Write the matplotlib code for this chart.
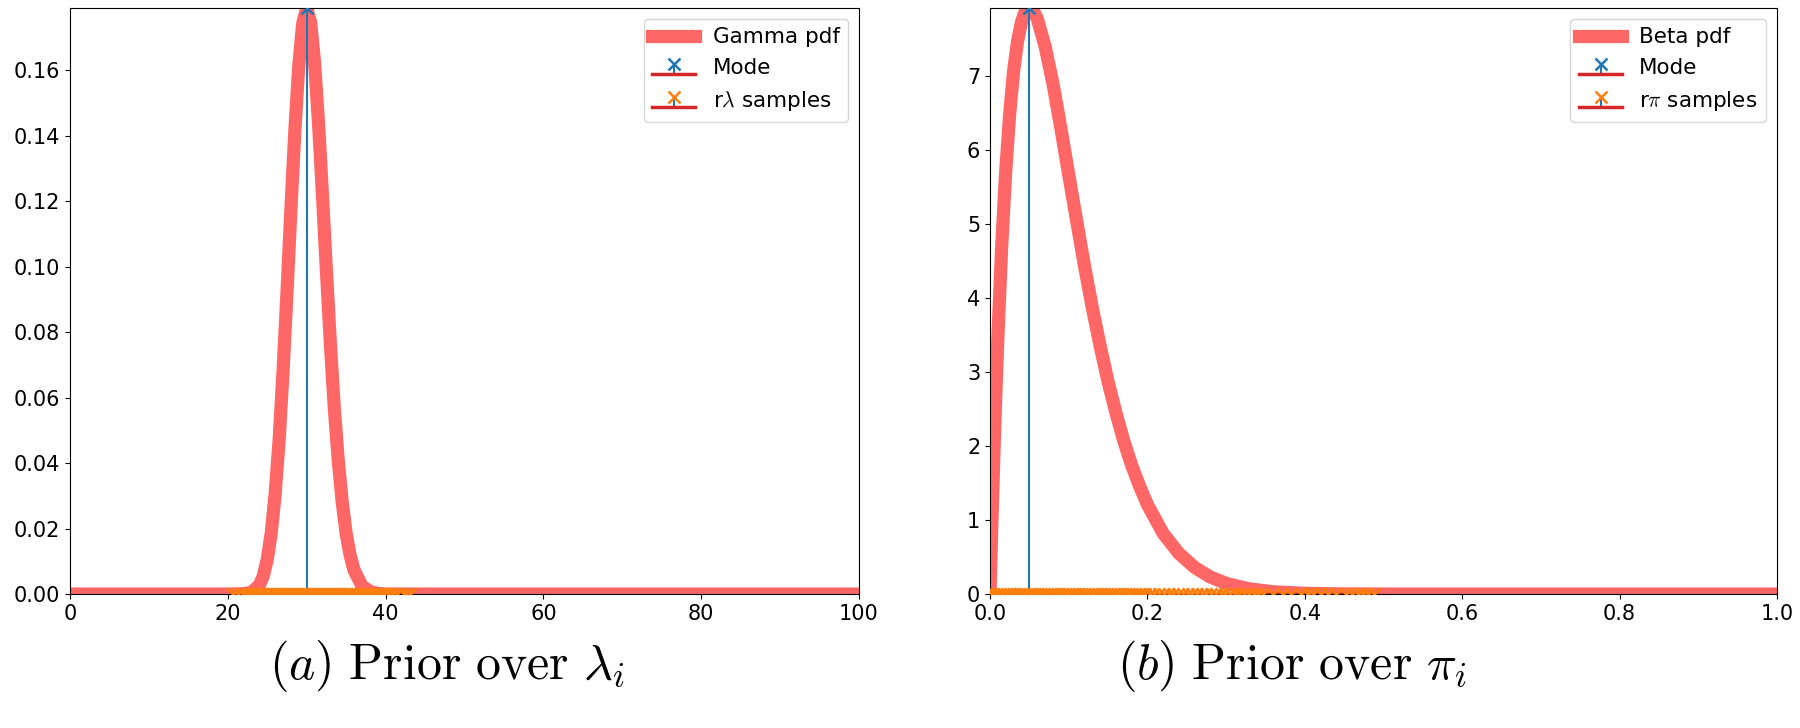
import numpy as np
import matplotlib
matplotlib.use('Agg')
import matplotlib.pyplot as plt

plt.rcParams['mathtext.fontset'] = 'cm'

# gamma prior over lambda
gamma_x = [0, 20, 22, 23, 24, 24.5, 25, 25.5, 26, 26.5, 27, 27.5, 28, 28.5,
           29, 29.5, 30, 30.5, 31, 31.5, 32, 32.5, 33, 33.5, 34, 34.5, 35,
           35.5, 36, 37, 38, 39, 40, 100]
gamma_pdf = [0.0, 0.0, 0.0001, 0.0005, 0.0027, 0.0055, 0.0106, 0.0185,
             0.0305, 0.0469, 0.0679, 0.0921, 0.1176, 0.1416, 0.1615, 0.1744,
             0.1790, 0.1746, 0.1623, 0.1438, 0.1217, 0.0986, 0.0765, 0.0567,
             0.0408, 0.0281, 0.0185, 0.0119, 0.0073, 0.0025, 0.0008, 0.0002,
             0.0, 0.0]
gamma_mode = 30
gamma_samples = [20.6, 21.3, 21.9, 22.4, 22.8, 23.1, 23.4, 23.7, 23.9, 24.1,
                 24.3, 24.5, 24.7, 24.9, 25.1, 25.3, 25.5, 25.7, 25.9, 26.1,
                 26.3, 26.5, 26.7, 26.9, 27.1, 27.3, 27.5, 27.7, 27.9, 28.1,
                 28.3, 28.5, 28.7, 28.9, 29.1, 29.3, 29.5, 29.7, 29.9, 30.1,
                 30.3, 30.5, 30.7, 30.9, 31.1, 31.3, 31.5, 31.7, 31.9, 32.1,
                 32.3, 32.5, 32.7, 32.9, 33.1, 33.3, 33.5, 33.7, 33.9, 34.1,
                 34.3, 34.5, 34.7, 34.9, 35.1, 35.3, 35.5, 35.8, 36.1, 36.4,
                 36.7, 37.0, 37.3, 37.6, 37.9, 38.2, 38.5, 38.8, 39.1, 39.4,
                 39.6, 39.9, 40.4, 41.0, 41.5, 42.3, 42.6, 43.1]

# beta prior over pi
beta_x = [0, 0.0025, 0.005, 0.0075, 0.01, 0.015, 0.02, 0.025, 0.03, 0.035,
          0.04, 0.045, 0.05, 0.055, 0.06, 0.07, 0.08, 0.09, 0.10, 0.11, 0.12,
          0.13, 0.14, 0.15, 0.16, 0.17, 0.18, 0.19, 0.20, 0.22, 0.24, 0.26,
          0.28, 0.30, 0.33, 0.36, 0.40, 0.45, 0.50, 1.0]
beta_pdf = [0.0, 1.00, 1.91, 2.73, 3.47, 4.73, 5.72, 6.49, 7.07, 7.47, 7.73,
            7.88, 7.92, 7.88, 7.78, 7.40, 6.90, 6.30, 5.67, 5.05, 4.44, 3.87,
            3.35, 2.87, 2.45, 2.07, 1.74, 1.46, 1.21, 0.82, 0.55, 0.36, 0.23,
            0.144, 0.069, 0.031, 0.010, 0.002, 0.0004, 0.0]
beta_mode = 0.05
beta_samples = [0.001, 0.005, 0.009, 0.013, 0.017, 0.021, 0.025, 0.029,
                0.033, 0.037, 0.041, 0.045, 0.049, 0.053, 0.057, 0.061,
                0.065, 0.069, 0.073, 0.077, 0.081, 0.085, 0.089, 0.093,
                0.097, 0.101, 0.105, 0.109, 0.113, 0.117, 0.121, 0.125,
                0.129, 0.133, 0.137, 0.141, 0.145, 0.149, 0.153, 0.157,
                0.161, 0.165, 0.169, 0.173, 0.177, 0.181, 0.185, 0.189,
                0.193, 0.197, 0.203, 0.209, 0.215, 0.221, 0.227, 0.233,
                0.239, 0.245, 0.251, 0.257, 0.263, 0.269, 0.275, 0.281,
                0.287, 0.293, 0.299, 0.305, 0.311, 0.317, 0.323, 0.329,
                0.335, 0.341, 0.347, 0.360, 0.372, 0.383, 0.395, 0.404,
                0.410, 0.420, 0.430, 0.440, 0.452, 0.460, 0.468, 0.474,
                0.480, 0.488]

panels = [
    (gamma_x, gamma_pdf, gamma_mode, gamma_samples, 'Gamma pdf',
     r'r$\lambda$ samples', (0, 100), [0, 20, 40, 60, 80, 100],
     r'$(a)\ \mathrm{Prior\ over}\ \lambda_i$'),
    (beta_x, beta_pdf, beta_mode, beta_samples, 'Beta pdf',
     r'r$\pi$ samples', (0, 1), [0.0, 0.2, 0.4, 0.6, 0.8, 1.0],
     r'$(b)\ \mathrm{Prior\ over}\ \pi_i$'),
]

fig = plt.figure(figsize=(18, 7.28), dpi=100)
axes = [fig.add_axes([0.0389, 0.184, 0.4383, 0.805]),
        fig.add_axes([0.55, 0.184, 0.4372, 0.805])]
caption_x = [0.248, 0.718]

for ax, cx, (xs, pdf, mode, samples, pdf_label, smp_label, xlim, xticks,
             caption) in zip(axes, caption_x, panels):
    peak = max(pdf)
    ax.plot(xs, pdf, 'r-', lw=9.5, alpha=0.6, label=pdf_label)
    m = ax.stem([mode], [peak], markerfmt='x', label='Mode')
    s = ax.stem(samples, [0] * len(samples), markerfmt='C1x', label=smp_label)
    for st in (m, s):
        st.markerline.set_markersize(9)
        st.markerline.set_markeredgewidth(1.8)
        st.markerline.set_zorder(3)
        st.baseline.set_linewidth(2.5)
    ax.set_xlim(*xlim)
    ax.set_ylim(0, peak)
    ax.set_xticks(xticks)
    ax.tick_params(labelsize=15)
    ax.legend(loc='upper right', fontsize=15.5)
    fig.text(cx, 0.085, caption, ha='center', va='center', fontsize=36)

axes[1].set_yticks(range(8))
axes[1].set_xticklabels(['0.0', '0.2', '0.4', '0.6', '0.8', '1.0'])

plt.savefig('out.png')
